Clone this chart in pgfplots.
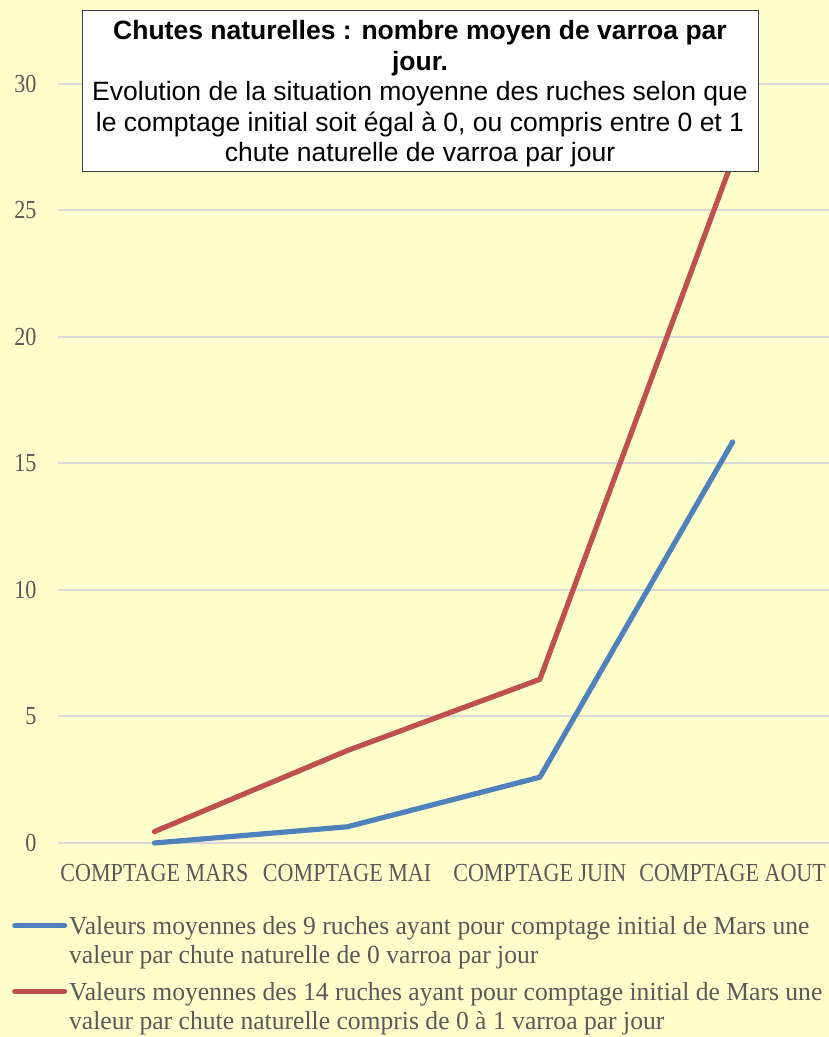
\documentclass[border=0pt]{standalone}
\usepackage{pgfplots}
\pgfplotsset{compat=1.18}
\usepackage{fontspec}
\setmainfont{Liberation Serif}
\newfontfamily\condfont[FakeStretch=0.85]{Liberation Serif}
\newfontfamily\legfont[FakeStretch=0.985]{Liberation Serif}
\newfontfamily\arialfont{Liberation Sans}
\definecolor{bg}{HTML}{FFFFCC}
\definecolor{sblue}{HTML}{4F81BD}
\definecolor{sred}{HTML}{C0504D}
\definecolor{txtgray}{HTML}{595959}
\definecolor{gridc}{HTML}{D9D9D9}
\begin{document}
\begin{tikzpicture}[x=1pt,y=1pt]
\fill[bg] (0,0) rectangle (829,1037);
\begin{axis}[
  at={(58pt,194pt)}, anchor=south west,
  scale only axis, width=771pt, height=759pt,
  xmin=-0.5, xmax=3.5, ymin=0, ymax=30,
  clip=false,
  axis line style={draw=none},
  ytick={0,5,...,30},
  xtick={0,1,2,3},
  xticklabels={COMPTAGE MARS, COMPTAGE MAI, COMPTAGE JUIN, COMPTAGE AOUT},
  major tick length=0pt,
  ymajorgrids,
  grid style={gridc, line width=2pt},
  tick label style={font=\condfont\fontsize{26}{30}\selectfont, text=txtgray},
  /pgf/number format/assume math mode=true,
  yticklabel style={anchor=east, xshift=-18pt},
  xticklabel style={anchor=center, yshift=-30pt},
  legend style={at={(-0.0597,-0.0915)}, anchor=north west, draw=none, fill=none,
    font=\legfont\fontsize{26}{29}\selectfont, text=txtgray,
    row sep=40pt, inner sep=0pt,
    cells={anchor=west, align=left}},
  legend cell align=left,
  legend image code/.code={\draw[#1, line width=5pt, line cap=round] (0pt,0pt) -- (50pt,0pt);},
]
\addplot[sblue, line width=5.2pt, line cap=round, line join=round] coordinates {(0,0) (1,0.64) (2,2.6) (3,15.85)};
\addlegendentry{\begin{tabular}[t]{@{}l@{}}Valeurs moyennes des 9 ruches ayant pour comptage initial de Mars une\\valeur par chute naturelle de 0 varroa par jour\end{tabular}}
\addplot[sred, line width=5.2pt, line cap=round, line join=round] coordinates {(0,0.45) (1,3.65) (2,6.47) (3,27)};
\addlegendentry{\begin{tabular}[t]{@{}l@{}}Valeurs moyennes des 14 ruches ayant pour comptage initial de Mars une\\valeur par chute naturelle compris de 0 à 1 varroa par jour\end{tabular}}
\end{axis}
\node[draw=black!75, line width=1.2pt, fill=white, minimum width=676pt, minimum height=161pt, inner sep=0pt, anchor=north west] at (82,1027) {};
\node[align=center, font=\arialfont\fontsize{26.5}{30.5}\selectfont, anchor=north] at (420,1020) {{\bfseries Chutes naturelles : nombre moyen de varroa par}\\{\bfseries jour.}\\Evolution de la situation moyenne des ruches selon que\\le comptage initial soit égal à 0, ou compris entre 0 et 1\\chute naturelle de varroa par jour};
\pgfresetboundingbox
\path (0,0) rectangle (829,1037);
\end{tikzpicture}
\end{document}
